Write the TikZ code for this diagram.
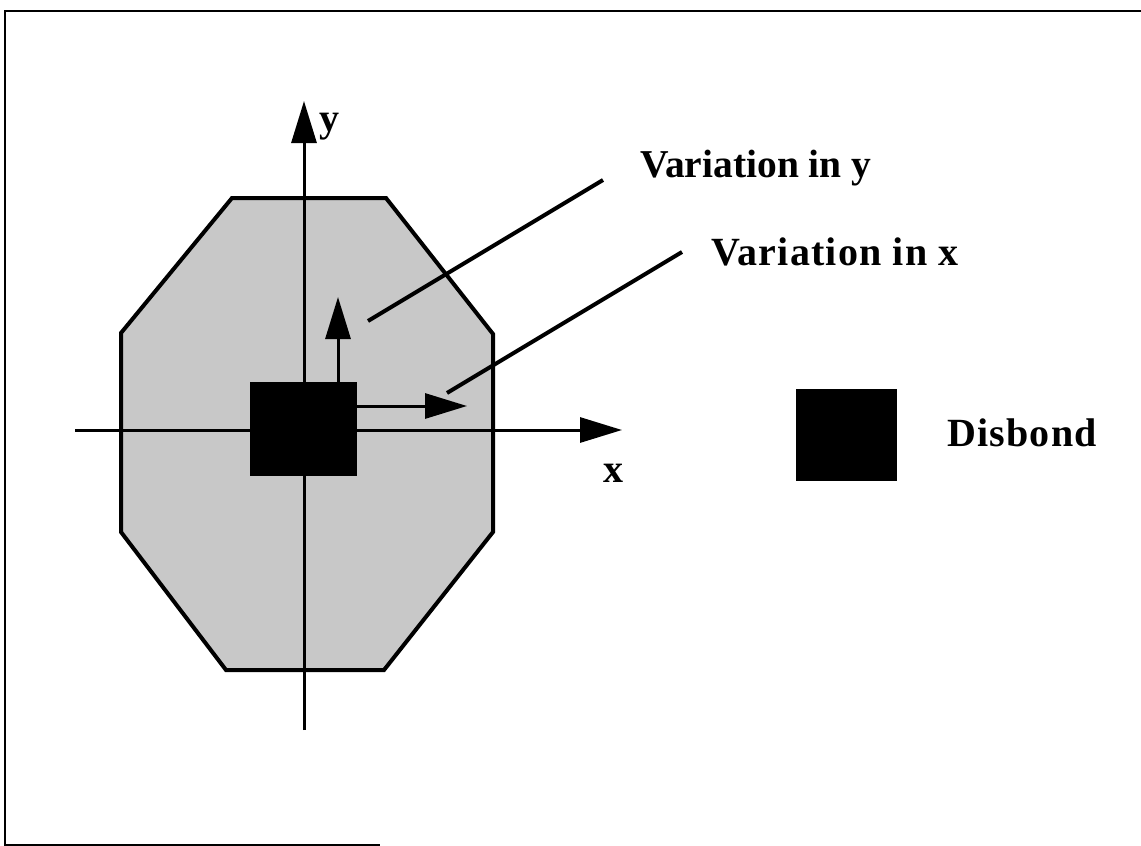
\documentclass[tikz,border=0pt]{standalone}
\usepackage{fontspec}
\setmainfont{Liberation Serif}
\usetikzlibrary{arrows.meta}
\definecolor{octfill}{RGB}{200,200,200}
\begin{document}
\begin{tikzpicture}[x=1pt,y=-1pt,
  axisline/.style={line width=3pt},
  bigtip/.style={-{Triangle[length=42pt,width=25pt]}},
  lbl/.style={font=\fontsize{40}{44}\selectfont\bfseries\addfontfeature{LetterSpace=3}, inner sep=0pt, anchor=base west},
  tightlbl/.style={lbl, font=\fontsize{39.5}{44}\selectfont\bfseries},
  leader/.style={line width=4pt},
  blk/.style={fill=black, draw=none, inner sep=0pt},
]
\useasboundingbox (0,0) rectangle (1141,846);
% frame
\draw[line width=2.5pt] (1141,11) -- (5,11) -- (5,845) -- (380,845);
% octagon
\draw[line width=4pt, fill=octfill, line join=miter]
  (232,198) -- (386,198) -- (493,334) -- (493,532) -- (384,670)
  -- (226,670) -- (121,532) -- (121,333) -- cycle;
% axes
\coordinate (xa0) at (75,430);
\coordinate (xa1) at (622,430);
\coordinate (ya0) at (304,730);
\coordinate (ya1) at (304,101);
\draw[axisline,bigtip] (xa0) -- (xa1);
\draw[axisline,bigtip] (ya0) -- (ya1);
\node[lbl] (ylab) at (319,131) {y};
\node[lbl] (xlab) at (603,482) {x};
% disbond
\node[blk, minimum width=107pt, minimum height=94pt] (disbond) at (303.5,429) {};
% variation arrows
\coordinate (vy0) at (338,382);
\coordinate (vy1) at (338,297);
\coordinate (vx0) at (357,406);
\coordinate (vx1) at (467,406);
\draw[axisline,bigtip] (vy0) -- (vy1);
\draw[axisline,bigtip] (vx0) -- (vx1);
% labels and leaders
\node[tightlbl] (vytext) at (640,177) {Variation in y};
\node[lbl] (vxtext) at (711,265) {Variation in x};
\coordinate (ly0) at (368,321);
\coordinate (ly1) at (603,180);
\coordinate (lx0) at (447,393);
\coordinate (lx1) at (682,252);
\draw[leader] (ly0) -- (ly1);
\draw[leader] (lx0) -- (lx1);
% legend
\node[blk, minimum width=101pt, minimum height=92pt] (legend) at (846.5,435) {};
\node[lbl] (disbondtext) at (947,446) {Disbond};
\end{tikzpicture}
\end{document}
